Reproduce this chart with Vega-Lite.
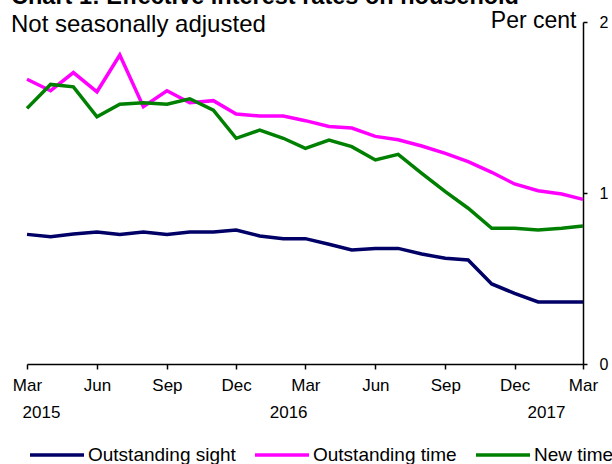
{
  "$schema": "https://vega.github.io/schema/vega-lite/v6.json",
  "width": 556,
  "height": 342,
  "autosize": "none",
  "padding": {"left": 27, "top": 22, "right": 29, "bottom": 100},
  "background": "white",
  "config": {"view": {"stroke": null}, "font": "Liberation Sans"},
  "title": {
    "text": "Chart 1: Effective interest rates on household",
    "subtitle": "Not seasonally adjusted",
    "anchor": "start",
    "frame": "group",
    "dx": -16,
    "offset": -28,
    "fontSize": 23.5,
    "fontWeight": "bold",
    "subtitleFontSize": 24,
    "subtitlePadding": 5,
    "color": "black",
    "subtitleColor": "black",
    "font": "Liberation Sans",
    "subtitleFont": "Liberation Sans"
  },
  "datasets": {
    "rates": [
      {"date": "2015-03-01", "series": "Outstanding sight", "value": 0.758},
      {"date": "2015-04-01", "series": "Outstanding sight", "value": 0.744},
      {"date": "2015-05-01", "series": "Outstanding sight", "value": 0.760},
      {"date": "2015-06-01", "series": "Outstanding sight", "value": 0.772},
      {"date": "2015-07-01", "series": "Outstanding sight", "value": 0.758},
      {"date": "2015-08-01", "series": "Outstanding sight", "value": 0.772},
      {"date": "2015-09-01", "series": "Outstanding sight", "value": 0.758},
      {"date": "2015-10-01", "series": "Outstanding sight", "value": 0.772},
      {"date": "2015-11-01", "series": "Outstanding sight", "value": 0.772},
      {"date": "2015-12-01", "series": "Outstanding sight", "value": 0.784},
      {"date": "2016-01-01", "series": "Outstanding sight", "value": 0.749},
      {"date": "2016-02-01", "series": "Outstanding sight", "value": 0.733},
      {"date": "2016-03-01", "series": "Outstanding sight", "value": 0.733},
      {"date": "2016-04-01", "series": "Outstanding sight", "value": 0.700},
      {"date": "2016-05-01", "series": "Outstanding sight", "value": 0.667},
      {"date": "2016-06-01", "series": "Outstanding sight", "value": 0.676},
      {"date": "2016-07-01", "series": "Outstanding sight", "value": 0.676},
      {"date": "2016-08-01", "series": "Outstanding sight", "value": 0.643},
      {"date": "2016-09-01", "series": "Outstanding sight", "value": 0.618},
      {"date": "2016-10-01", "series": "Outstanding sight", "value": 0.608},
      {"date": "2016-11-01", "series": "Outstanding sight", "value": 0.468},
      {"date": "2016-12-01", "series": "Outstanding sight", "value": 0.413},
      {"date": "2017-01-01", "series": "Outstanding sight", "value": 0.363},
      {"date": "2017-02-01", "series": "Outstanding sight", "value": 0.363},
      {"date": "2017-03-01", "series": "Outstanding sight", "value": 0.363},
      {"date": "2015-03-01", "series": "Outstanding time", "value": 1.665},
      {"date": "2015-04-01", "series": "Outstanding time", "value": 1.598},
      {"date": "2015-05-01", "series": "Outstanding time", "value": 1.704},
      {"date": "2015-06-01", "series": "Outstanding time", "value": 1.592},
      {"date": "2015-07-01", "series": "Outstanding time", "value": 1.807},
      {"date": "2015-08-01", "series": "Outstanding time", "value": 1.505},
      {"date": "2015-09-01", "series": "Outstanding time", "value": 1.598},
      {"date": "2015-10-01", "series": "Outstanding time", "value": 1.528},
      {"date": "2015-11-01", "series": "Outstanding time", "value": 1.540},
      {"date": "2015-12-01", "series": "Outstanding time", "value": 1.462},
      {"date": "2016-01-01", "series": "Outstanding time", "value": 1.450},
      {"date": "2016-02-01", "series": "Outstanding time", "value": 1.450},
      {"date": "2016-03-01", "series": "Outstanding time", "value": 1.423},
      {"date": "2016-04-01", "series": "Outstanding time", "value": 1.389},
      {"date": "2016-05-01", "series": "Outstanding time", "value": 1.380},
      {"date": "2016-06-01", "series": "Outstanding time", "value": 1.331},
      {"date": "2016-07-01", "series": "Outstanding time", "value": 1.311},
      {"date": "2016-08-01", "series": "Outstanding time", "value": 1.275},
      {"date": "2016-09-01", "series": "Outstanding time", "value": 1.232},
      {"date": "2016-10-01", "series": "Outstanding time", "value": 1.183},
      {"date": "2016-11-01", "series": "Outstanding time", "value": 1.121},
      {"date": "2016-12-01", "series": "Outstanding time", "value": 1.053},
      {"date": "2017-01-01", "series": "Outstanding time", "value": 1.013},
      {"date": "2017-02-01", "series": "Outstanding time", "value": 0.994},
      {"date": "2017-03-01", "series": "Outstanding time", "value": 0.963},
      {"date": "2015-03-01", "series": "New time", "value": 1.495},
      {"date": "2015-04-01", "series": "New time", "value": 1.635},
      {"date": "2015-05-01", "series": "New time", "value": 1.621},
      {"date": "2015-06-01", "series": "New time", "value": 1.446},
      {"date": "2015-07-01", "series": "New time", "value": 1.519},
      {"date": "2015-08-01", "series": "New time", "value": 1.528},
      {"date": "2015-09-01", "series": "New time", "value": 1.519},
      {"date": "2015-10-01", "series": "New time", "value": 1.551},
      {"date": "2015-11-01", "series": "New time", "value": 1.485},
      {"date": "2015-12-01", "series": "New time", "value": 1.320},
      {"date": "2016-01-01", "series": "New time", "value": 1.368},
      {"date": "2016-02-01", "series": "New time", "value": 1.320},
      {"date": "2016-03-01", "series": "New time", "value": 1.261},
      {"date": "2016-04-01", "series": "New time", "value": 1.310},
      {"date": "2016-05-01", "series": "New time", "value": 1.271},
      {"date": "2016-06-01", "series": "New time", "value": 1.193},
      {"date": "2016-07-01", "series": "New time", "value": 1.226},
      {"date": "2016-08-01", "series": "New time", "value": 1.115},
      {"date": "2016-09-01", "series": "New time", "value": 1.008},
      {"date": "2016-10-01", "series": "New time", "value": 0.911},
      {"date": "2016-11-01", "series": "New time", "value": 0.794},
      {"date": "2016-12-01", "series": "New time", "value": 0.794},
      {"date": "2017-01-01", "series": "New time", "value": 0.784},
      {"date": "2017-02-01", "series": "New time", "value": 0.794},
      {"date": "2017-03-01", "series": "New time", "value": 0.807}
    ],
    "years": [
      {"date": "2015-03-20", "label": "2015"},
      {"date": "2016-02-08", "label": "2016"},
      {"date": "2017-01-12", "label": "2017"}
    ]
  },
  "layer": [
    {
      "data": {"name": "rates"},
      "mark": {"type": "line", "strokeWidth": 3.5},
      "encoding": {
        "x": {
          "field": "date",
          "type": "temporal",
          "scale": {"type": "utc", "domain": [{"year": 2015, "month": 3, "date": 1, "utc": true}, {"year": 2017, "month": 3, "date": 1, "utc": true}]},
          "axis": {
            "title": null,
            "values": [
              {"year": 2015, "month": 3, "date": 1, "utc": true},
              {"year": 2015, "month": 6, "date": 1, "utc": true},
              {"year": 2015, "month": 9, "date": 1, "utc": true},
              {"year": 2015, "month": 12, "date": 1, "utc": true},
              {"year": 2016, "month": 3, "date": 1, "utc": true},
              {"year": 2016, "month": 6, "date": 1, "utc": true},
              {"year": 2016, "month": 9, "date": 1, "utc": true},
              {"year": 2016, "month": 12, "date": 1, "utc": true},
              {"year": 2017, "month": 3, "date": 1, "utc": true}
            ],
            "labelExpr": "utcFormat(datum.value, '%b')",
            "grid": false,
            "domainColor": "black",
            "domainWidth": 1.5,
            "tickColor": "black",
            "tickWidth": 1.5,
            "tickSize": 5,
            "labelFontSize": 17,
            "labelPadding": 8,
            "labelColor": "black",
            "labelFlush": false,
            "labelOverlap": false
          }
        },
        "y": {
          "field": "value",
          "type": "quantitative",
          "scale": {"domain": [0, 2], "nice": false, "zero": true},
          "axis": {
            "orient": "right",
            "values": [0, 1, 2],
            "labelExpr": "format(datum.value, 'd')",
            "labelOverlap": false,
            "labelFlush": false,
            "title": "Per cent",
            "titleAngle": 0,
            "titleAlign": "right",
            "titleBaseline": "alphabetic",
            "titleX": -7,
            "titleY": 5,
            "titleFontSize": 23,
            "titleFontWeight": "normal",
            "titleColor": "black",
            "grid": false,
            "domainColor": "black",
            "domainWidth": 1.5,
            "tickColor": "black",
            "tickWidth": 1.5,
            "tickSize": 4,
            "labelPadding": 12,
            "labelFontSize": 16,
            "labelColor": "black"
          }
        },
        "color": {
          "field": "series",
          "type": "nominal",
          "scale": {"domain": ["Outstanding sight", "Outstanding time", "New time"], "range": ["#000066", "#FF00FF", "#008000"]},
          "legend": {
            "orient": "none",
            "legendX": 1,
            "legendY": 404,
            "direction": "horizontal",
            "title": null,
            "symbolType": "stroke",
            "symbolSize": 2916,
            "symbolStrokeWidth": 3.5,
            "labelFontSize": 19,
            "labelColor": "black",
            "labelOffset": 2,
            "labelLimit": 0,
            "columnPadding": 12
          }
        }
      }
    },
    {
      "data": {"name": "years"},
      "mark": {"type": "text", "fontSize": 17, "color": "black", "font": "Liberation Sans"},
      "encoding": {
        "x": {"field": "date", "type": "temporal"},
        "y": {"datum": -0.285},
        "text": {"field": "label"}
      }
    }
  ]
}
